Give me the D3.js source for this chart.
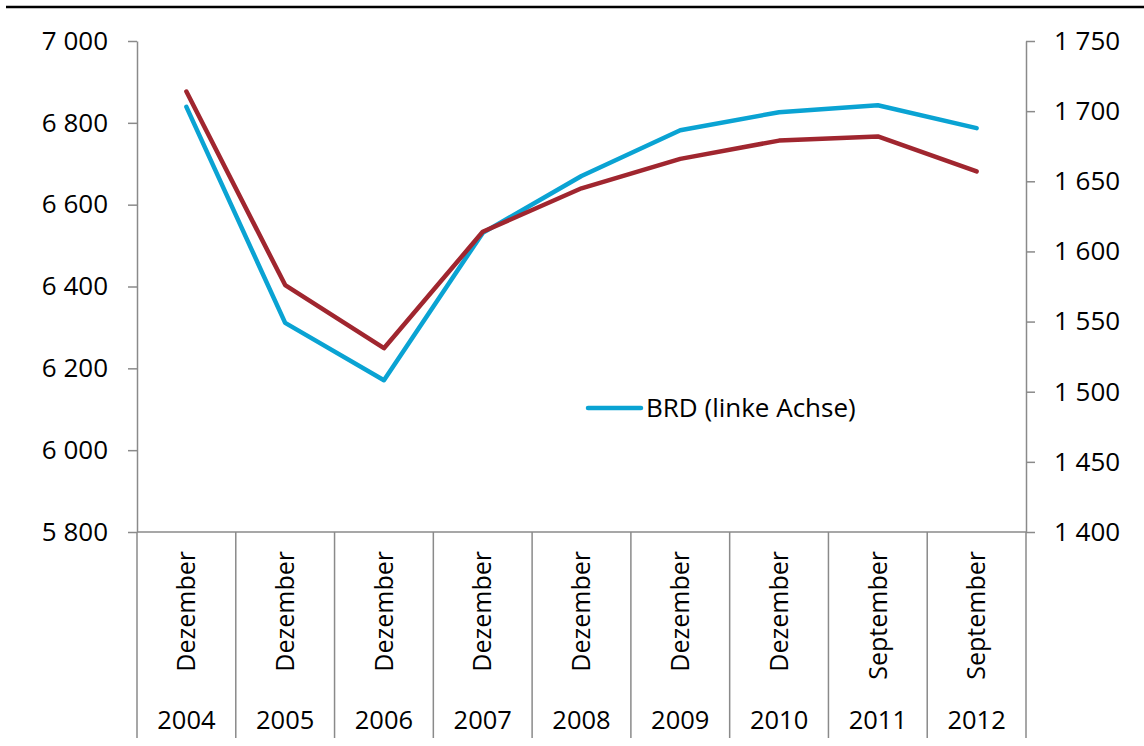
<!DOCTYPE html>
<html>
<head>
<meta charset="utf-8">
<script src="https://cdn.jsdelivr.net/npm/d3@7"></script>
<style>
  html, body { margin: 0; padding: 0; background: #fff; }
  svg { display: block; font-family: "Open Sans", sans-serif; }
</style>
</head>
<body>
<div id="chart"></div>
<script>
const years = ["2004", "2005", "2006", "2007", "2008", "2009", "2010", "2011", "2012"]
const months = ["Dezember", "Dezember", "Dezember", "Dezember", "Dezember", "Dezember", "Dezember", "September", "September"]
const brd = [6839, 6311, 6171, 6531, 6670, 6782, 6826, 6843, 6787]     // linke Achse
const rechts = [1714, 1576, 1531, 1614, 1645, 1666, 1679, 1682, 1657]  // rechte Achse
const leftTicks = [5800, 6000, 6200, 6400, 6600, 6800, 7000]
const rightTicks = [1400, 1450, 1500, 1550, 1600, 1650, 1700, 1750]
const legendLabel = "BRD (linke Achse)"

const width = 1144, height = 746
const plot = {left: 137, right: 1026, top: 41, bottom: 532}
const blue = "#0aa3d3", red = "#a0262f", grey = "#8a8a8a"

const locale = d3.formatLocale({decimal: ",", thousands: " ", grouping: [3], currency: ["", ""]})
const fmt = locale.format(",d")

const svg = d3.select("#chart").append("svg")
  .attr("width", width)
  .attr("height", height)

// top rule
svg.append("line")
  .attr("x1", 6).attr("x2", width)
  .attr("y1", 7).attr("y2", 7)
  .attr("stroke", "#000")
  .attr("stroke-width", 2.5)

const x = d3.scaleBand()
  .domain(d3.range(years.length))
  .range([plot.left, plot.right])
  .padding(0)

const yL = d3.scaleLinear().domain([5800, 7000]).range([plot.bottom, plot.top])
const yR = d3.scaleLinear().domain([1400, 1750]).range([plot.bottom, plot.top])

const cx = i => x(i) + x.bandwidth() / 2

function styleAxis(g) {
  g.select(".domain").attr("stroke", grey).attr("stroke-width", 1.5)
  g.selectAll(".tick line").attr("stroke", grey).attr("stroke-width", 1.5)
  g.selectAll(".tick text").attr("fill", "#000").attr("font-size", "26px")
  g.attr("font-family", null)
}

svg.append("g")
  .attr("transform", `translate(${plot.left},0)`)
  .call(d3.axisLeft(yL).tickValues(leftTicks).tickFormat(fmt).tickSize(9).tickSizeOuter(0).tickPadding(20))
  .call(styleAxis)

svg.append("g")
  .attr("transform", `translate(${plot.right},0)`)
  .call(d3.axisRight(yR).tickValues(rightTicks).tickFormat(fmt).tickSize(9).tickSizeOuter(0).tickPadding(19))
  .call(styleAxis)

// baseline
svg.append("line")
  .attr("x1", plot.left).attr("x2", plot.right)
  .attr("y1", plot.bottom).attr("y2", plot.bottom)
  .attr("stroke", grey)
  .attr("stroke-width", 1.5)

// category separators
const bounds = d3.range(years.length + 1).map(i => i < years.length ? x(i) : plot.right)
svg.append("g")
  .selectAll("line")
  .data(bounds)
  .join("line")
    .attr("x1", d => d).attr("x2", d => d)
    .attr("y1", plot.bottom).attr("y2", 738)
    .attr("stroke", grey)
    .attr("stroke-width", 1.5)

// month labels (rotated)
svg.append("g")
  .selectAll("text")
  .data(months)
  .join("text")
    .attr("transform", (d, i) => `translate(${cx(i)},551) rotate(-90)`)
    .attr("dy", "0.35em")
    .attr("text-anchor", "end")
    .attr("font-size", "25px")
    .text(d => d)

// year labels
svg.append("g")
  .selectAll("text")
  .data(years)
  .join("text")
    .attr("x", (d, i) => cx(i))
    .attr("y", 729)
    .attr("text-anchor", "middle")
    .attr("font-size", "25.5px")
    .text(d => d)

const lineL = d3.line().x((d, i) => cx(i)).y(d => yL(d))
const lineR = d3.line().x((d, i) => cx(i)).y(d => yR(d))

svg.append("path")
  .datum(brd)
  .attr("d", lineL)
  .attr("fill", "none")
  .attr("stroke", blue)
  .attr("stroke-width", 4.5)
  .attr("stroke-linecap", "round")
  .attr("stroke-linejoin", "round")

svg.append("path")
  .datum(rechts)
  .attr("d", lineR)
  .attr("fill", "none")
  .attr("stroke", red)
  .attr("stroke-width", 4.5)
  .attr("stroke-linecap", "round")
  .attr("stroke-linejoin", "round")

// legend
const legend = svg.append("g").attr("transform", "translate(588,408)")
legend.append("line")
  .attr("x1", 0).attr("x2", 53)
  .attr("stroke", blue)
  .attr("stroke-width", 4.5)
  .attr("stroke-linecap", "round")
legend.append("text")
  .attr("x", 58)
  .attr("y", 9)
  .attr("font-size", "26px")
  .text(legendLabel)
</script>
</body>
</html>
